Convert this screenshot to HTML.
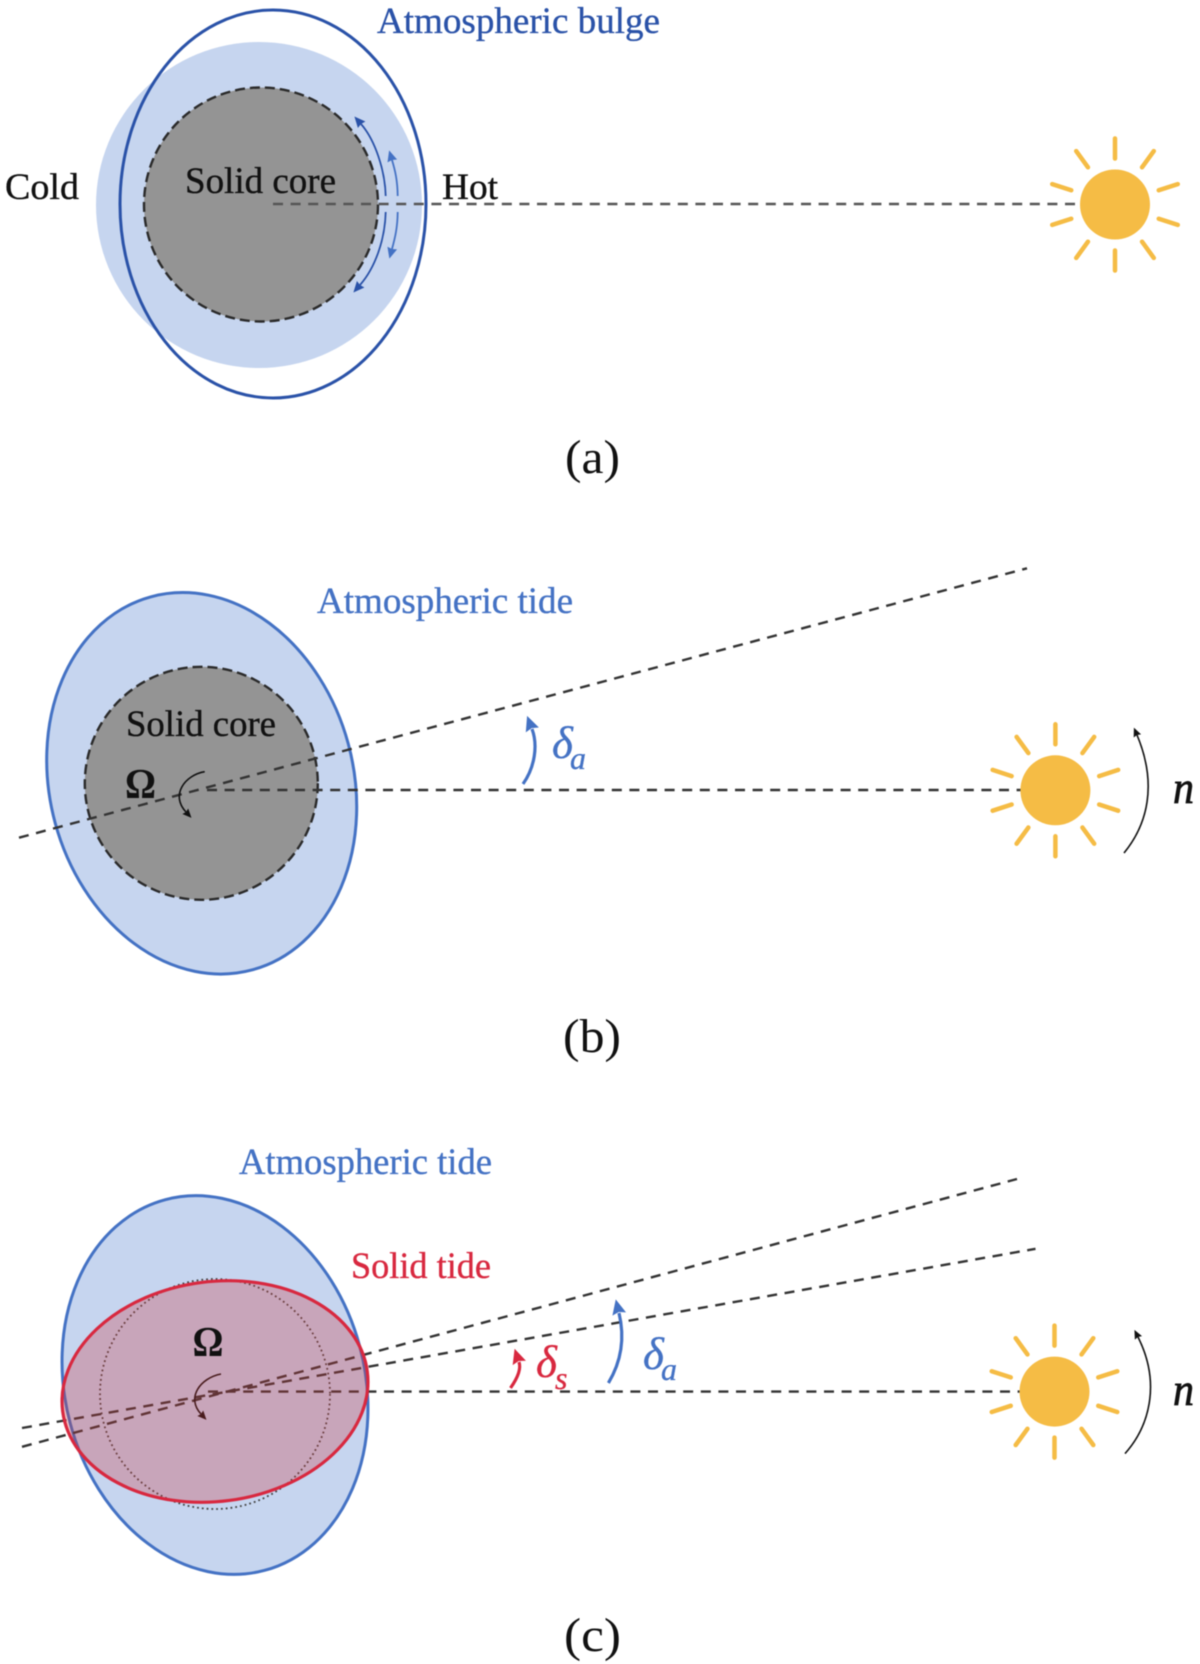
<!DOCTYPE html>
<html>
<head>
<meta charset="utf-8">
<style>
html,body{margin:0;padding:0;background:#fff}
svg{display:block;filter:blur(0.5px)}
text{font-family:"Liberation Serif",serif;stroke-width:.35px;paint-order:stroke}
.lbl{font-size:37px}
.cap{font-size:48px;fill:#111}
.d{fill:none;stroke:#333;stroke-width:2.4;stroke-dasharray:10 7.6}
.core{fill:#949494;stroke:#2a2a2a;stroke-width:2.4;stroke-dasharray:10 5}
.gr{font-style:italic;font-size:45px}
.sub{font-style:italic;font-size:32px}
</style>
</head>
<body>
<svg width="1200" height="1664" viewBox="0 0 1200 1664" xmlns="http://www.w3.org/2000/svg">
<defs>
<g id="sun">
<circle r="35" fill="#f5bc45"/>
<g stroke="#f5bc45" stroke-width="4.5" stroke-linecap="round">
<line y1="-46" y2="-66"/>
<line y1="-46" y2="-66" transform="rotate(36)"/>
<line y1="-46" y2="-66" transform="rotate(72)"/>
<line y1="-46" y2="-66" transform="rotate(108)"/>
<line y1="-46" y2="-66" transform="rotate(144)"/>
<line y1="-46" y2="-66" transform="rotate(180)"/>
<line y1="-46" y2="-66" transform="rotate(216)"/>
<line y1="-46" y2="-66" transform="rotate(252)"/>
<line y1="-46" y2="-66" transform="rotate(288)"/>
<line y1="-46" y2="-66" transform="rotate(324)"/>
</g>
</g>
<marker id="mB" markerUnits="userSpaceOnUse" markerWidth="18" markerHeight="18" refX="1" refY="7" orient="auto" overflow="visible"><path d="M0 0L15 7L0 14L2 7Z" fill="#4472c4"/></marker>
<marker id="mR" markerUnits="userSpaceOnUse" markerWidth="18" markerHeight="18" refX="1" refY="7" orient="auto" overflow="visible"><path d="M0 0L15 7L0 14L2 7Z" fill="#d8283f"/></marker>
<marker id="mK" markerUnits="userSpaceOnUse" markerWidth="12" markerHeight="12" refX="1" refY="4" orient="auto" overflow="visible"><path d="M0 0L9 4L0 8L1 4Z" fill="#111"/></marker>
<marker id="mD" markerUnits="userSpaceOnUse" markerWidth="14" markerHeight="14" refX="1" refY="5" orient="auto" overflow="visible"><path d="M0 0L11 5L0 10L1 5Z" fill="#2a52a8"/></marker>
<marker id="mL" markerUnits="userSpaceOnUse" markerWidth="14" markerHeight="14" refX="1" refY="5" orient="auto" overflow="visible"><path d="M0 0L11 5L0 10L1 5Z" fill="#4472c4"/></marker>
</defs>

<!-- Panel a -->
<circle cx="259" cy="205" r="163" fill="#c6d5ef"/>
<ellipse cx="273" cy="204" rx="153" ry="194" fill="none" stroke="#2a52a8" stroke-width="3"/>
<circle cx="261" cy="204.5" r="117" class="core"/>
<line x1="273" y1="204" x2="1078" y2="204" class="d" style="stroke:#555"/>
<use href="#sun" x="1115" y="204.5"/>
<path d="M385.7 196C385 170 375 140 361 124" fill="none" stroke="#2a52a8" stroke-width="1.8" marker-end="url(#mD)"/>
<path d="M397.7 196C397.5 180 395 170 392 160" fill="none" stroke="#4472c4" stroke-width="1.8" marker-end="url(#mL)"/>
<path d="M385.7 212C385 240 375 268 360 285" fill="none" stroke="#2a52a8" stroke-width="1.8" marker-end="url(#mD)"/>
<path d="M397.7 212C397.5 228 395 238 392 249" fill="none" stroke="#4472c4" stroke-width="1.8" marker-end="url(#mL)"/>
<text x="377" y="33" class="lbl" fill="#2a52a8" stroke="#2a52a8" textLength="283" lengthAdjust="spacingAndGlyphs">Atmospheric bulge</text>
<text x="5" y="199" class="lbl" fill="#111" stroke="#111" textLength="74" lengthAdjust="spacingAndGlyphs">Cold</text>
<text x="442" y="199" class="lbl" fill="#111" stroke="#111" textLength="56" lengthAdjust="spacingAndGlyphs">Hot</text>
<text x="185" y="193" class="lbl" fill="#111" stroke="#111" textLength="151" lengthAdjust="spacingAndGlyphs">Solid core</text>
<text x="565" y="473" class="cap" textLength="55" lengthAdjust="spacingAndGlyphs">(a)</text>

<!-- Panel b -->
<ellipse cx="201.7" cy="783.3" rx="151.8" ry="193.3" transform="rotate(-15.2 201.7 783.3)" fill="#c6d5ef" stroke="#4472c4" stroke-width="3"/>
<circle cx="201.3" cy="783.3" r="116.5" class="core"/>
<line x1="207" y1="790" x2="1022" y2="790" class="d"/>
<line x1="19" y1="837.7" x2="1027" y2="568.3" class="d"/>
<use href="#sun" x="1055.4" y="790.3"/>
<path d="M204.7 771.7C185 775 170 795 186 812" fill="none" stroke="#111" stroke-width="1.6" marker-end="url(#mK)"/>
<path d="M523 784C535 767 538 745 532 729" fill="none" stroke="#4472c4" stroke-width="3.2" marker-end="url(#mB)"/>
<path d="M1124 853C1147 825 1158 785 1137 735" fill="none" stroke="#111" stroke-width="1.6" marker-end="url(#mK)"/>
<text x="317" y="613" class="lbl" fill="#4472c4" stroke="#4472c4" textLength="256" lengthAdjust="spacingAndGlyphs">Atmospheric tide</text>
<text x="126" y="736" class="lbl" fill="#111" stroke="#111" textLength="150" lengthAdjust="spacingAndGlyphs">Solid core</text>
<text x="125" y="798" font-size="42" font-weight="700" fill="#111" textLength="31" lengthAdjust="spacingAndGlyphs">Ω</text>
<text x="552" y="758" class="gr" fill="#4472c4" stroke="#4472c4">δ</text>
<text x="570" y="769" class="sub" fill="#4472c4" stroke="#4472c4">a</text>
<text x="1173" y="803" font-size="46" font-style="italic" fill="#111" stroke="#111" style="stroke-width:.8px" textLength="21" lengthAdjust="spacingAndGlyphs">n</text>
<text x="563" y="1052" class="cap" textLength="58" lengthAdjust="spacingAndGlyphs">(b)</text>

<!-- Panel c -->
<ellipse cx="215" cy="1385" rx="149.8" ry="191.9" transform="rotate(-15 215 1385)" fill="#c6d5ef" stroke="#4472c4" stroke-width="3"/>
<ellipse cx="215" cy="1394" rx="115" ry="115" fill="none" stroke="#444" stroke-width="1.8" stroke-dasharray="1.8 3"/>
<line x1="208" y1="1391.6" x2="1021" y2="1391.6" class="d"/>
<line x1="22" y1="1446.8" x2="1017" y2="1179" class="d"/>
<line x1="22" y1="1428" x2="1035.5" y2="1248.8" class="d"/>
<path d="M221 1374C200 1378 186 1398 201 1414" fill="none" stroke="#111" stroke-width="1.6" marker-end="url(#mK)"/>
<ellipse cx="215" cy="1391.5" rx="153.6" ry="109.9" transform="rotate(-7.5 215 1391.5)" fill="rgb(205,56,62)" fill-opacity=".3" stroke="none"/>
<ellipse cx="215" cy="1391.5" rx="153.6" ry="109.9" transform="rotate(-7.5 215 1391.5)" fill="none" stroke="#d8283f" stroke-width="3.2"/>
<use href="#sun" x="1054.5" y="1391.6"/>
<path d="M510.5 1388C519 1376 521 1368 519 1362" fill="none" stroke="#d8283f" stroke-width="3.2" marker-end="url(#mR)"/>
<path d="M608.4 1383C621 1362 625 1338 619 1313" fill="none" stroke="#4472c4" stroke-width="3.2" marker-end="url(#mB)"/>
<path d="M1125 1453.6C1148 1428 1162 1385 1138 1337" fill="none" stroke="#111" stroke-width="1.6" marker-end="url(#mK)"/>
<text x="239" y="1174" class="lbl" fill="#4472c4" stroke="#4472c4" textLength="253" lengthAdjust="spacingAndGlyphs">Atmospheric tide</text>
<text x="351" y="1278" class="lbl" fill="#d8283f" stroke="#d8283f" textLength="140" lengthAdjust="spacingAndGlyphs">Solid tide</text>
<text x="192.5" y="1356" font-size="42" font-weight="700" fill="#111" textLength="31" lengthAdjust="spacingAndGlyphs">Ω</text>
<text x="536" y="1377" class="gr" fill="#d8283f" stroke="#d8283f">δ</text>
<text x="555" y="1389" class="sub" fill="#d8283f" stroke="#d8283f">s</text>
<text x="643" y="1369" class="gr" fill="#4472c4" stroke="#4472c4">δ</text>
<text x="661" y="1380" class="sub" fill="#4472c4" stroke="#4472c4">a</text>
<text x="1173" y="1405" font-size="46" font-style="italic" fill="#111" stroke="#111" style="stroke-width:.8px" textLength="21" lengthAdjust="spacingAndGlyphs">n</text>
<text x="564" y="1651" class="cap" textLength="57" lengthAdjust="spacingAndGlyphs">(c)</text>
</svg>
</body>
</html>
